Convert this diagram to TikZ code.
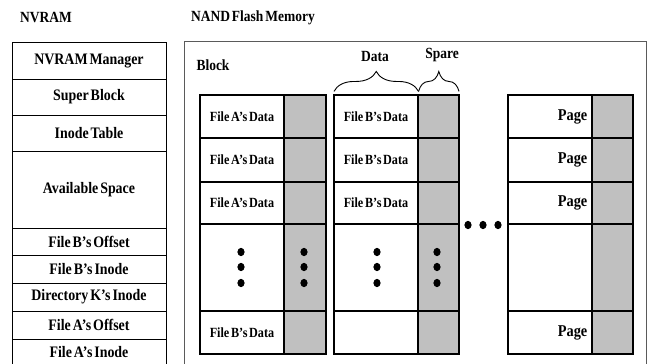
\documentclass[tikz,border=0pt]{standalone}
\usepackage{fontspec}
\setmainfont{Liberation Serif}
\newfontfamily\lbl{Liberation Serif Bold}[FakeStretch=0.87,WordSpace=0.55]
\usetikzlibrary{decorations.pathreplacing}
\definecolor{sparegray}{RGB}{192,192,192}
\definecolor{framegray}{RGB}{90,90,90}
\tikzset{
  nvcell/.style={draw=black, line width=1pt, fill=white, inner sep=0pt, minimum width=154pt, font=\lbl\fontsize{16}{17}\selectfont},
  databox/.style={draw=black, line width=1.1pt, fill=white, inner sep=0pt},
  sparebox/.style={draw=black, line width=1.1pt, fill=sparegray, inner sep=0pt},
  celltext/.style={inner sep=0pt, font=\lbl\fontsize{14}{15}\selectfont},
  pagetext/.style={inner sep=0pt, anchor=east, font=\lbl\fontsize{16.5}{17}\selectfont},
  title/.style={inner sep=0pt, font=\lbl\fontsize{15.5}{16}\selectfont},
  dotmark/.style={fill=black},
  bracepath/.style={decorate, decoration={brace, amplitude=20pt}, line width=0.9pt}
}
\begin{document}
\begin{tikzpicture}[x=1pt,y=-1pt]
\useasboundingbox (0,0) rectangle (648,364);
\clip (0,0) rectangle (648,364);
\fill[white] (0,0) rectangle (648,364);

% titles
\node[title] (nvtitle) at (46,18) {NVRAM};
\node[title, anchor=west] (nandtitle) at (191,18) {NAND Flash Memory};

% NVRAM column
\node[nvcell, minimum height=37pt] (nv1) at (89,60.5) {NVRAM Manager};
\node[nvcell, minimum height=36pt] (nv2) at (89,97) {Super Block};
\node[nvcell, minimum height=36pt] (nv3) at (89,133) {Inode Table};
\node[nvcell, minimum height=77pt] (nv4) at (89,189.5) {Available Space};
\node[nvcell, minimum height=27pt] (nv5) at (89,241.5) {File B’s Offset};
\node[nvcell, minimum height=28pt] (nv6) at (89,269) {File B’s Inode};
\node[nvcell, minimum height=28pt] (nv7) at (89,297) {Directory K’s Inode};
\node[nvcell, minimum height=28pt] (nv8) at (89,325) {File A’s Offset};
\node[nvcell, minimum height=27pt] (nv9) at (89,352.5) {File A’s Inode};

% NAND frame
\node[draw=framegray, line width=0.9pt, inner sep=0pt, minimum width=462pt, minimum height=330pt] (frame) at (415,206) {};
\node[title] (blocklbl) at (213,65) {Block};

% columns of pages
\foreach \c/\xd/\xs/\xe in {1/200/284/326, 2/334/418/459, 3/508/592/633} {
  \foreach \r/\ya/\yb in {1/95/138, 2/138/182, 3/182/224, 4/224/311, 5/311/354} {
    \node[databox, minimum width={\xs-\xd}, minimum height={\yb-\ya}] (d\c-\r) at ({(\xd+\xs)/2},{(\ya+\yb)/2}) {};
    \node[sparebox, minimum width={\xe-\xs}, minimum height={\yb-\ya}] (s\c-\r) at ({(\xs+\xe)/2},{(\ya+\yb)/2}) {};
  }
}

% data labels
\node[celltext] (t1-1) at (d1-1) {File A’s Data};
\node[celltext] (t1-2) at (d1-2) {File A’s Data};
\node[celltext] (t1-3) at (d1-3) {File A’s Data};
\node[celltext] (t1-5) at (d1-5) {File B’s Data};
\node[celltext] (t2-1) at (d2-1) {File B’s Data};
\node[celltext] (t2-2) at (d2-2) {File B’s Data};
\node[celltext] (t2-3) at (d2-3) {File B’s Data};
\node[pagetext] (p1) at ([xshift=-5pt]d3-1.east) {Page};
\node[pagetext] (p2) at ([xshift=-5pt]d3-2.east) {Page};
\node[pagetext] (p3) at ([xshift=-5pt]d3-3.east) {Page};
\node[pagetext] (p5) at ([xshift=-5pt]d3-5.east) {Page};

% vertical ellipses
\foreach \x in {241,304,377,437} {
  \foreach \y in {252,267,283} {
    \fill[dotmark] (\x,\y) ellipse (3.6pt and 4.2pt);
  }
}
% horizontal ellipsis
\foreach \x in {468,483,498} {
  \fill[dotmark] (\x,225) ellipse (3.6pt and 4.2pt);
}

% braces
\coordinate (bdl) at ([xshift=0.5pt,yshift=3pt]d2-1.north west);
\coordinate (bdr) at ([yshift=3pt]d2-1.north east);
\coordinate (bsr) at ([xshift=-0.5pt,yshift=3pt]s2-1.north east);
\draw[bracepath] (bdl) -- (bdr);
\draw[bracepath] (bdr) -- (bsr);
\node[title] (datalbl) at (375,57) {Data};
\node[title] (sparelbl) at (442,55) {Spare};
\end{tikzpicture}
\end{document}
